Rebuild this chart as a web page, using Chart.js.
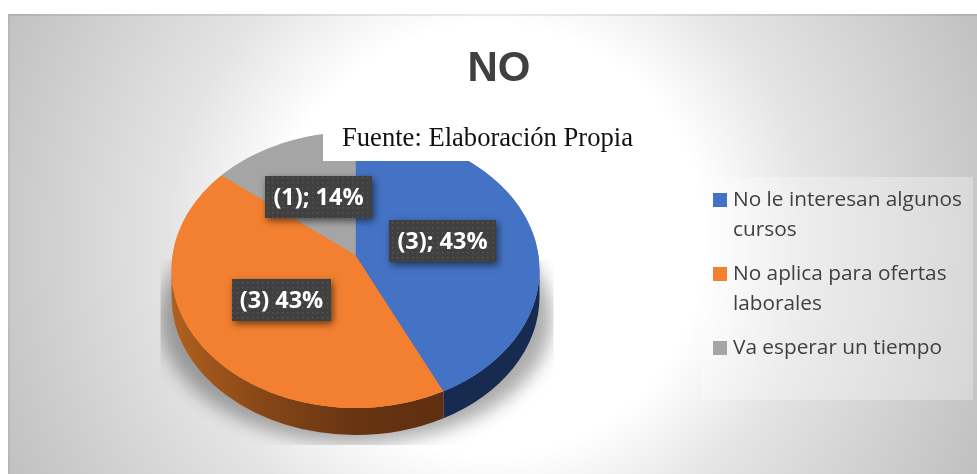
<!DOCTYPE html>
<html><head><meta charset="utf-8">
<style>html,body{margin:0;padding:0;background:#fff}canvas{display:block}</style>
<script src="https://cdn.jsdelivr.net/npm/chart.js@4"></script></head>
<body><canvas id="c" width="977" height="474"></canvas>
<script>
const chartTitle = 'NO';
const sourceNote = 'Fuente: Elaboración Propia';
const categories = ['No le interesan algunos cursos','No aplica para ofertas laborales','Va esperar un tiempo'];
const legendLines = [['No le interesan algunos','cursos'],['No aplica para ofertas','laborales'],['Va esperar un tiempo']];
const values = [3,3,1];
const dataLabels = ['(3); 43%','(3) 43%','(1); 14%'];
const colors = ['#4472c4','#f28030','#a5a5a5'];

const TILT = 0.75, DEPTH = 27, APEX_SHIFT = 15;
function geom(chart){
  const arcs = chart.getDatasetMeta(0).data;
  const a = arcs[0];
  const rx=a.outerRadius, ry=rx*TILT, e=APEX_SHIFT/ry, k=Math.sqrt((1+e)/(1-e));
  // perspective foreshortening of a slice boundary angle on the rim
  const warp=ang=>{
    const t=ang-Math.PI/2;
    const n=Math.atan2(Math.sin(t),Math.cos(t));
    if(Math.abs(Math.abs(n)-Math.PI)<1e-6) return ang;
    return 2*Math.atan(k*Math.tan(n/2))+Math.PI/2+(ang-Math.PI/2-n);
  };
  return {arcs, cx:a.x, cy:a.y, rx, ry, warp};
}
function labelBox(ctx,text,x,y,w,h){
  ctx.save();
  ctx.shadowColor='rgba(0,0,0,0.55)';ctx.shadowBlur=7;ctx.shadowOffsetX=2;ctx.shadowOffsetY=3;
  ctx.fillStyle='#404040';ctx.fillRect(x,y,w,h);
  ctx.restore();
  const p=document.createElement('canvas');p.width=5;p.height=5;
  const g=p.getContext('2d');g.fillStyle='rgba(255,255,255,0.11)';g.fillRect(2,2,1.5,1.5);
  ctx.save();ctx.fillStyle=ctx.createPattern(p,'repeat');ctx.fillRect(x,y,w,h);ctx.restore();
  ctx.save();ctx.fillStyle='#fff';ctx.font='700 23.5px "Open Sans"';ctx.textAlign='center';ctx.textBaseline='middle';
  ctx.fillText(text,x+w/2,y+h/2+1);ctx.restore();
}
const piePlugin = {
  id:'pie3d',
  beforeDraw(chart){
    const ctx=chart.ctx;
    ctx.save();
    ctx.fillStyle='#fff';ctx.fillRect(0,0,977,474);
    const g=ctx.createRadialGradient(490,240,215,490,240,545);
    g.addColorStop(0,'#ffffff');g.addColorStop(0.32,'#e4e4e4');g.addColorStop(0.74,'#cdcdcd');g.addColorStop(1,'#bfbfbf');
    ctx.fillStyle=g;ctx.fillRect(8,14,969,460);
    ctx.fillStyle='rgba(0,0,0,0.08)';ctx.fillRect(8,14,969,2);
    ctx.fillStyle='rgba(0,0,0,0.05)';ctx.fillRect(8,16,2,458);
    ctx.restore();
  },
  beforeDatasetsDraw(chart){
    const ctx=chart.ctx,{arcs,cx,cy,rx,ry,warp}=geom(chart);
    // soft shadow, clipped to a rectangle like the picture effect
    ctx.save();
    ctx.beginPath();ctx.rect(cx-195,cy-10,393,185);ctx.clip();
    ctx.filter='blur(9px)';ctx.fillStyle='rgba(0,0,0,0.33)';
    ctx.beginPath();ctx.ellipse(cx,cy+48,rx+12,ry-13,0,0,Math.PI*2);ctx.fill();
    ctx.restore();
    // side wall
    const shade=[];
    shade[0]='#172b50';
    const og=ctx.createLinearGradient(cx-rx,0,cx+rx,0);
    og.addColorStop(0,'#b0601f');og.addColorStop(0.25,'#864717');og.addColorStop(0.5,'#683412');og.addColorStop(0.75,'#5f2f10');
    shade[1]=og;shade[2]='#636363';
    arcs.forEach((arc,i)=>{
      const s=Math.max(warp(arc.startAngle),0),e=Math.min(warp(arc.endAngle),Math.PI);
      if(e<=s)return;
      ctx.beginPath();
      ctx.ellipse(cx,cy,rx,ry,0,s,e);
      ctx.ellipse(cx,cy+DEPTH,rx,ry,0,e,s,true);
      ctx.closePath();ctx.fillStyle=shade[i];ctx.fill();
    });
    ctx.save();
    ctx.translate(cx,cy);ctx.scale(1,TILT);ctx.translate(-cx,-cy);
  },
  afterDatasetsDraw(chart){
    const ctx=chart.ctx,{arcs,cx,cy,rx,ry,warp}=geom(chart);
    ctx.restore();
    // perspective: the apex sits above the ellipse centre, slice edges follow it
    [1,0,2].forEach(i=>{
      const arc=arcs[i];
      ctx.beginPath();ctx.moveTo(cx,cy-APEX_SHIFT);
      ctx.ellipse(cx,cy,rx,ry,0,warp(arc.startAngle),warp(arc.endAngle));
      ctx.closePath();ctx.fillStyle=colors[i];ctx.fill();
    });
    // source note
    ctx.fillStyle='#fff';ctx.fillRect(323,118,317,43);
    ctx.fillStyle='#111';ctx.font='26.6px "Liberation Serif"';ctx.textBaseline='alphabetic';ctx.textAlign='left';
    ctx.fillText(sourceNote,342,146);
    // title
    ctx.fillStyle='#404040';ctx.font='700 42px "Liberation Sans"';ctx.textAlign='center';
    ctx.fillText(chartTitle,499,81);
    // data labels
    labelBox(ctx,dataLabels[0],389,220,107,42);
    labelBox(ctx,dataLabels[1],232,279,99,42);
    labelBox(ctx,dataLabels[2],265,176,107,42);
    // legend
    ctx.fillStyle='rgba(255,255,255,0.3)';ctx.fillRect(701,177,272,223);
    ctx.font='20.8px "Open Sans"';ctx.textAlign='left';
    const lineH=30,gap=14;let y=206;
    legendLines.forEach((lines,i)=>{
      ctx.fillStyle=colors[i];ctx.fillRect(713,y-13,14,14);
      ctx.fillStyle='#404040';
      lines.forEach((t,j)=>{ctx.fillText(t,733,y+j*lineH);});
      y+=lines.length*lineH+gap;
    });
  }
};
new Chart(document.getElementById('c'),{
  type:'pie',
  data:{labels:categories,datasets:[{data:values,backgroundColor:colors,borderWidth:0}]},
  options:{
    responsive:false,animation:false,
    layout:{padding:{left:171,right:437,top:86,bottom:20}},
    plugins:{legend:{display:false},title:{display:false},tooltip:{enabled:false}}
  },
  plugins:[piePlugin]
});
</script></body></html>
